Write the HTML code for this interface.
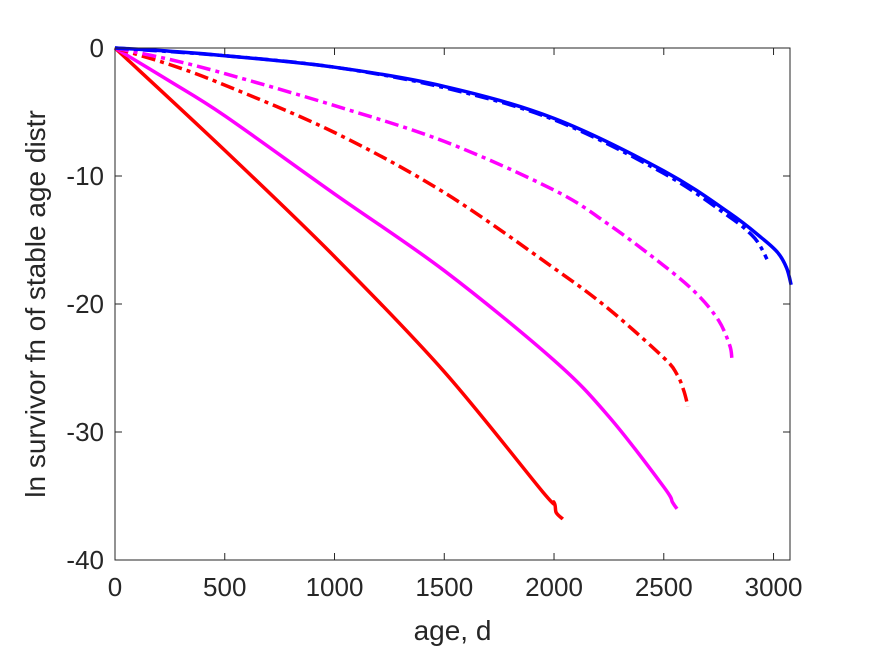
<!DOCTYPE html>
<html><head><meta charset="utf-8"><style>body{margin:0;background:#fff}svg{display:block}</style></head>
<body>
<svg id="chart" width="875" height="656" xmlns="http://www.w3.org/2000/svg" font-family="Liberation Sans, sans-serif">
<rect width="875" height="656" fill="#fff"/>
<g id="plot"></g>
<g id="axes"></g>
</svg>
<script>
const xTicks = [0,500,1000,1500,2000,2500,3000];
const yTicks = [0,-10,-20,-30,-40];
const redSolidX = [0,500,1000,1500,1950,2000,2010,2040];
const redSolidY = [0,-8,-16.3,-25.3,-34.7,-35.5,-36.3,-36.8];
const magSolidX = [0,250,500,1000,1500,2000,2250,2500,2540,2560];
const magSolidY = [0,-2.6,-5.3,-11.4,-17.4,-24.4,-28.8,-34.3,-35.5,-36];
const redDashX = [0,250,500,1000,1500,2000,2250,2500,2560,2590,2610];
const redDashY = [0,-1.3,-2.9,-6.6,-11.3,-17.2,-20.4,-24.2,-25.5,-26.7,-28];
const magDashX = [0,250,500,1000,1500,2000,2250,2500,2650,2750,2800,2810];
const magDashY = [0,-0.9,-2,-4.5,-7.3,-11.1,-13.8,-17,-19.2,-21.3,-23.2,-24.2];
const blueSolidX = [0,250,500,1000,1500,2000,2500,2800,2950,3020,3060,3080];
const blueSolidY = [0,-0.25,-0.6,-1.5,-3,-5.5,-9.6,-12.9,-14.9,-16.0,-17.2,-18.5];
const blueDashX = [0,500,1000,1500,2000,2500,2800,2900,2940,2970];
const blueDashY = [0,-0.6,-1.5,-3.1,-5.6,-9.8,-13.2,-14.6,-15.5,-16.5];

const L=115,R=790,T=48,B=560,xMax=3075;
const sx=v=>L+v/xMax*(R-L);
const sy=v=>T+(0-v)/40*(B-T);
const NS="http://www.w3.org/2000/svg";
const plot=document.getElementById('plot'), axes=document.getElementById('axes');
function smooth(pts){
  let d='M'+pts[0][0].toFixed(1)+','+pts[0][1].toFixed(1);
  for(let i=0;i<pts.length-1;i++){
    const p0=pts[Math.max(0,i-1)],p1=pts[i],p2=pts[i+1],p3=pts[Math.min(pts.length-1,i+2)];
    const c1=[p1[0]+(p2[0]-p0[0])/6,p1[1]+(p2[1]-p0[1])/6];
    const c2=[p2[0]-(p3[0]-p1[0])/6,p2[1]-(p3[1]-p1[1])/6];
    d+=`C${c1[0].toFixed(1)},${c1[1].toFixed(1)} ${c2[0].toFixed(1)},${c2[1].toFixed(1)} ${p2[0].toFixed(1)},${p2[1].toFixed(1)}`;
  }
  return d;
}
function line(xs,ys,color,dash,name){
  const p=document.createElementNS(NS,'path');
  p.setAttribute('d',smooth(xs.map((x,i)=>[sx(x),sy(ys[i])])));
  p.setAttribute('fill','none');p.setAttribute('stroke',color);p.setAttribute('stroke-width','3.5');
  if(dash)p.setAttribute('stroke-dasharray','14,5,4,5');
  
  
  plot.appendChild(p);
}
line(redSolidX,redSolidY,'#ff0000',false,'red-solid-line');
line(magSolidX,magSolidY,'#ff00ff',false,'magenta-solid-line');
line(redDashX,redDashY,'#ff0000',true,'red-dashdot-line');
line(magDashX,magDashY,'#ff00ff',true,'magenta-dashdot-line');
line(blueDashX,blueDashY,'#0000ff',true,'blue-dashdot-line');
line(blueSolidX,blueSolidY,'#0000ff',false,'blue-solid-line');
const box=document.createElementNS(NS,'rect');
box.setAttribute('x',L);box.setAttribute('y',T);box.setAttribute('width',R-L);box.setAttribute('height',B-T);
box.setAttribute('fill','none');box.setAttribute('stroke','#262626');box.setAttribute('stroke-width','1');


axes.appendChild(box);
function mk(tag,attrs,name,text){const e=document.createElementNS(NS,tag);for(const k in attrs)e.setAttribute(k,attrs[k]);if(text!==undefined)e.textContent=text;

axes.appendChild(e);return e;}
xTicks.forEach(v=>{const x=sx(v);
 mk('path',{d:`M${x},${B}V${B-7}M${x},${T}V${T+7}`,stroke:'#262626','stroke-width':1},'x-tick');
 mk('text',{x:x,y:B+36,'text-anchor':'middle','font-size':26,fill:'#262626'},'x-tick-label',String(v));});
yTicks.forEach(v=>{const y=sy(v);
 mk('path',{d:`M${L},${y}H${L+7}M${R},${y}H${R-7}`,stroke:'#262626','stroke-width':1},'y-tick');
 mk('text',{x:L-11,y:y+9,'text-anchor':'end','font-size':26,fill:'#262626'},'y-tick-label',String(v));});
mk('text',{x:(L+R)/2,y:640,'text-anchor':'middle','font-size':28,fill:'#262626'},'x-axis-title','age, d');
mk('text',{x:0,y:0,transform:`translate(45,${(T+B)/2}) rotate(-90)`,'text-anchor':'middle','font-size':28,fill:'#262626'},'y-axis-title','ln survivor fn of stable age distr');
</script>
</body></html>
